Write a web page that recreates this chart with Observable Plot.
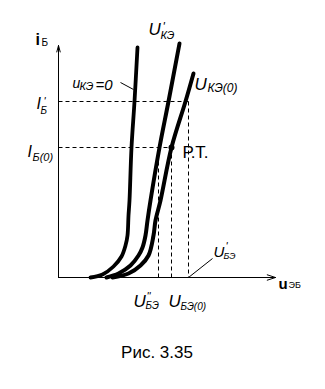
<!DOCTYPE html>
<html>
<head>
<meta charset="utf-8">
<script src="https://cdn.jsdelivr.net/npm/d3@7"></script>
<script src="https://cdn.jsdelivr.net/npm/@observablehq/plot@0.6"></script>
<style>
  html, body { margin: 0; padding: 0; background: #fff; }
  #wrap { position: relative; width: 325px; height: 389px; }
  #cap { position: absolute; left: 0; width: 314px; top: 343.6px; text-align: center;
         font: 17px "Liberation Sans", Arial, sans-serif; line-height: 17px; color: #000; }
</style>
</head>
<body>
<div id="wrap"><div id="chart"></div><div id="cap">Рис. 3.35</div></div>
<script>
// Input characteristics i_B(u_EB), arbitrary units: [u, i]
const curveUke0 = [[32,0],[44,3],[55,11],[63,21],[67,32],[69,42],[70,62],[71,77],[73,130],[76,176],[79,230]];
const curveUke1 = [[48,0],[60,4],[72,12],[80,22],[84,30],[87,42],[89,57],[92,77],[101,130],[110,176],[121,234]];
const curveUke00 = [[54,0],[70,4],[82,12],[90,22],[95,42],[97,57],[102,77],[113,130],[127,176],[135,204]];

// Levels
const IB1 = 176;   // I'_B
const IB0 = 130;   // I_B(0)
const UBE2 = 100;  // U''_BE
const UBE0 = 113;  // U_BE(0)
const UBE1 = 130;  // U'_BE
const UMAX = 217;
const IMAX = 232;

const toPts = a => a.map(([u, i]) => ({u, i}));
const FONT = "Liberation Sans, Arial, sans-serif";

const dash = [
  {x1: 0, y1: IB1, x2: UBE1, y2: IB1},
  {x1: UBE1, y1: IB1, x2: UBE1, y2: 0},
  {x1: 0, y1: IB0, x2: UBE0, y2: IB0},
  {x1: UBE0, y1: IB0, x2: UBE0, y2: 0},
  {x1: UBE2, y1: IB0, x2: UBE2, y2: 0}
];

const top1 = curveUke1[curveUke1.length - 1];
const top0 = curveUke00[curveUke00.length - 1];
const leadA = [{x1: 62, y1: 195, x2: 75, y2: 188}];     // u_KE=0 leader
const leadB = [{x1: UBE1, y1: 0, x2: 154, y2: 19}];     // U'_BE leader

function lbl(u, i, text, dx, dy, size, opts = {}) {
  return Plot.text([{u, i}], {
    x: "u", y: "i", text: () => text, dx, dy,
    fontSize: size, textAnchor: "start", lineAnchor: "middle",
    fontStyle: opts.italic ? "italic" : "normal",
    fontWeight: opts.bold ? "bold" : "normal",
    fill: "black"
  });
}
const it = {italic: true};

const chart = Plot.plot({
  width: 325, height: 330,
  marginLeft: 58, marginRight: 50, marginTop: 45, marginBottom: 53,
  x: {domain: [0, UMAX], axis: null},
  y: {domain: [0, IMAX], axis: null},
  style: {fontFamily: FONT, background: "white", color: "black", overflow: "visible"},
  marks: [
    Plot.link(dash, {x1: "x1", y1: "y1", x2: "x2", y2: "y2", stroke: "black", strokeWidth: 1, strokeDasharray: "4,3"}),
    Plot.arrow([{x1: 0, y1: 0, x2: 0, y2: IMAX}], {x1: "x1", y1: "y1", x2: "x2", y2: "y2", stroke: "black", strokeWidth: 1, headLength: 10, headAngle: 30}),
    Plot.arrow([{x1: 0, y1: 0, x2: UMAX, y2: 0}], {x1: "x1", y1: "y1", x2: "x2", y2: "y2", stroke: "black", strokeWidth: 1, headLength: 13, headAngle: 36}),
    Plot.line(toPts(curveUke0), {x: "u", y: "i", curve: "catmull-rom", stroke: "black", strokeWidth: 3.8}),
    Plot.line(toPts(curveUke1), {x: "u", y: "i", curve: "catmull-rom", stroke: "black", strokeWidth: 4}),
    Plot.line(toPts(curveUke00), {x: "u", y: "i", curve: "catmull-rom", stroke: "black", strokeWidth: 4}),
    Plot.link(leadA, {x1: "x1", y1: "y1", x2: "x2", y2: "y2", stroke: "black", strokeWidth: 1}),
    Plot.link(leadB, {x1: "x1", y1: "y1", x2: "x2", y2: "y2", stroke: "black", strokeWidth: 1}),
    Plot.dot([{u: UBE0, i: IB0}], {x: "u", y: "i", r: 3, fill: "black"}),
    // axis labels
    lbl(0, IMAX, "i", -23, -6.1, 16, {bold: true}),
    lbl(0, IMAX, "Б", -17, -3.2, 10),
    lbl(UMAX, 0, "u", 3, 6.2, 15, {bold: true}),
    lbl(UMAX, 0, "ЭБ", 13, 8.1, 9),
    // curve labels
    lbl(top1[0], top1[1], "U", -31, -13.5, 17, it),
    lbl(top1[0], top1[1], "'", -17, -16.5, 12, it),
    lbl(top1[0], top1[1], "КЭ", -19, -8.5, 11, it),
    lbl(top0[0], top0[1], "U", 1, 11.5, 17, it),
    lbl(top0[0], top0[1], "КЭ(0)", 14, 14.2, 12, it),
    lbl(62, 195, "u", -48, 1.5, 14, it),
    lbl(62, 195, "КЭ", -41, 3.5, 11, it),
    lbl(62, 195, "=0", -25, 2.2, 15, it),
    // current levels
    lbl(0, IB1, "I", -22, 1.9, 16, it),
    lbl(0, IB1, "'", -15, -0.5, 11, it),
    lbl(0, IB1, "Б", -18, 9.2, 10, it),
    lbl(0, IB0, "I", -31, 3.9, 16, it),
    lbl(0, IB0, "Б(0)", -26, 9.8, 11, it),
    lbl(UBE0, IB0, "Р.Т.", 11, 4.6, 17),
    // voltage levels
    lbl(UBE2, 0, "U", -25, 24.2, 17, it),
    lbl(UBE2, 0, "''", -12, 19, 11, it),
    lbl(UBE2, 0, "БЭ", -13, 28.3, 10, it),
    lbl(UBE0, 0, "U", -3, 24.2, 17, it),
    lbl(UBE0, 0, "БЭ(0)", 9, 28.8, 10, it),
    lbl(154, 19, "U", 1, -6.4, 15, it),
    lbl(154, 19, "'", 13, -12, 11, it),
    lbl(154, 19, "БЭ", 11, -2.4, 9, it)
  ]
});
document.getElementById("chart").appendChild(chart);
</script>
</body>
</html>
